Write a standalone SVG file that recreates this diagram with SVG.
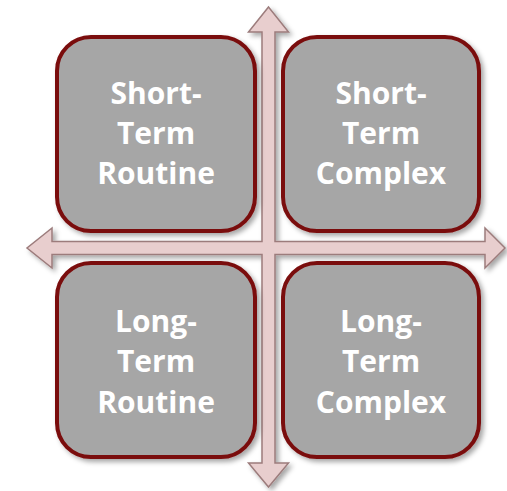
<svg xmlns="http://www.w3.org/2000/svg" width="507" height="491" viewBox="0 0 507 491">
<defs>
<filter id="sh" x="-10%" y="-10%" width="125%" height="125%">
<feDropShadow dx="3" dy="3" stdDeviation="2.5" flood-color="#000" flood-opacity="0.35"/>
</filter>
</defs>
<style>
.box{fill:#A6A6A6;stroke:#7A0D0D;stroke-width:4;filter:url(#sh)}
.lbl{font-family:"Open Sans","Liberation Sans",sans-serif;font-weight:bold;font-size:30px;fill:#FFFFFF;text-anchor:middle}
.arrow{fill:#E8CECE;stroke:#9C7C7C;stroke-width:1.5;stroke-linejoin:miter;filter:url(#sh)}
</style>
<rect width="507" height="491" fill="#FFFFFF"/>
<g id="connectors">
<path class="arrow" d="M268.5,7 L288.5,32 L275,32 L275,241.5 L485,241.5 L485,228 L505,248 L485,268 L485,254.5 L275,254.5 L275,463 L288.5,463 L268.5,487 L248.5,463 L262,463 L262,254.5 L52,254.5 L52,268 L27,248 L52,228 L52,241.5 L262,241.5 L262,32 L248.5,32 Z"/>
</g>
<g id="short-term-routine">
<rect class="box" x="57" y="37" width="198" height="194" rx="34"/>
<text class="lbl" x="156" y="104">Short-</text>
<text class="lbl" x="156" y="144">Term</text>
<text class="lbl" x="156" y="184">Routine</text>
</g>
<g id="short-term-complex">
<rect class="box" x="283" y="37" width="196" height="194" rx="34"/>
<text class="lbl" x="381" y="104">Short-</text>
<text class="lbl" x="381" y="144">Term</text>
<text class="lbl" x="381" y="184">Complex</text>
</g>
<g id="long-term-routine">
<rect class="box" x="57" y="263" width="198" height="194" rx="34"/>
<text class="lbl" x="156" y="332">Long-</text>
<text class="lbl" x="156" y="372">Term</text>
<text class="lbl" x="156" y="413">Routine</text>
</g>
<g id="long-term-complex">
<rect class="box" x="283" y="263" width="196" height="194" rx="34"/>
<text class="lbl" x="381" y="332">Long-</text>
<text class="lbl" x="381" y="372">Term</text>
<text class="lbl" x="381" y="413">Complex</text>
</g>
</svg>
